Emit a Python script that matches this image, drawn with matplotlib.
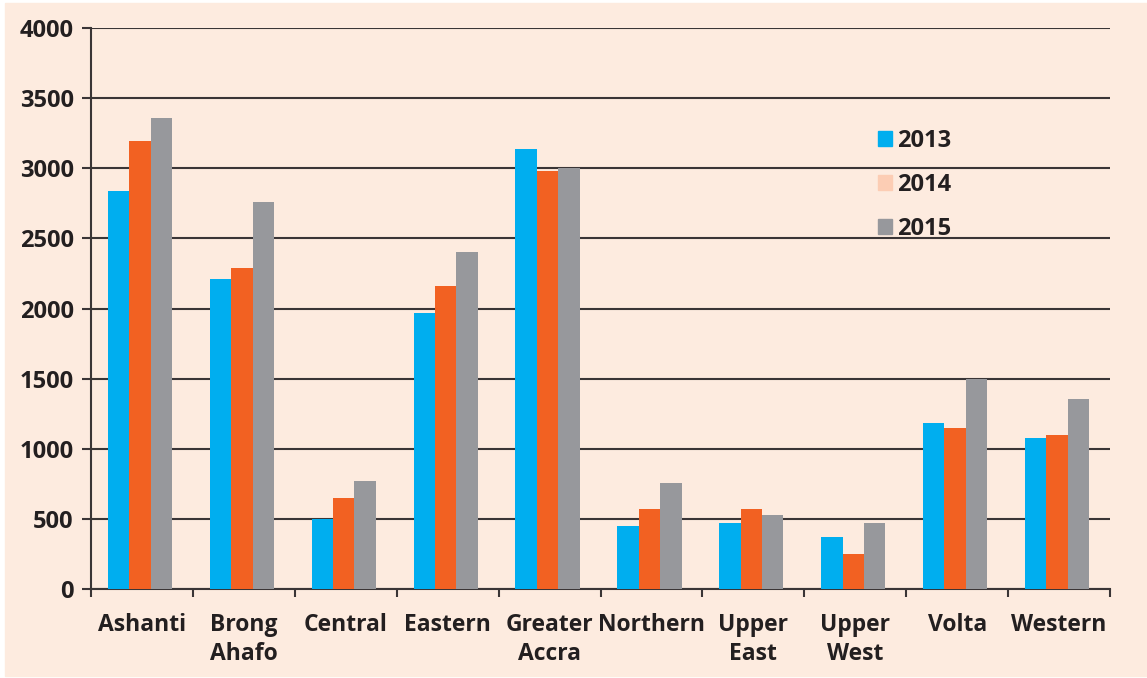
import matplotlib.pyplot as plt
import matplotlib.patches as mpatches
import numpy as np

regions = ['Ashanti', 'Brong\nAhafo', 'Central', 'Eastern', 'Greater\nAccra',
           'Northern', 'Upper\nEast', 'Upper\nWest', 'Volta', 'Western']
years = ['2013', '2014', '2015']
v2013 = [2840, 2210, 500, 1970, 3135, 450, 470, 370, 1185, 1080]
v2014 = [3195, 2290, 650, 2160, 2980, 570, 570, 250, 1150, 1100]
v2015 = [3360, 2760, 770, 2400, 3005, 755, 530, 470, 1495, 1355]
y_ticks = [0, 500, 1000, 1500, 2000, 2500, 3000, 3500, 4000]

bar_colors = ['#00AEEF', '#F26122', '#97989C']
legend_colors = ['#00AEEF', '#FCCDB4', '#97989C']
bg = '#FDEBDF'
ink = '#231F20'

plt.rcParams['font.family'] = ['Open Sans', 'DejaVu Sans']
plt.rcParams['font.weight'] = 'bold'

fig = plt.figure(figsize=(11.47, 6.78), dpi=100, facecolor='white')
# peach panel with a thin white margin round it
fig.patches.append(mpatches.Rectangle((5 / 1147, 2 / 678), 1142 / 1147, 673 / 678,
                                      transform=fig.transFigure, color=bg, zorder=-5))
ax = fig.add_axes([91 / 1147, 89 / 678, 1019 / 1147, 561 / 678])
ax.set_facecolor(bg)

x = np.arange(len(regions))
w = 0.21
for i, vals in enumerate([v2013, v2014, v2015]):
    ax.bar(x + (i - 1) * w - 0.02, vals, w, color=bar_colors[i], zorder=3)

ax.set_xlim(-0.5, len(regions) - 0.5)
ax.set_ylim(0, 4000)
ax.set_yticks(y_ticks)
ax.set_yticklabels([str(t) for t in y_ticks], fontsize=17, fontweight='bold', color=ink)
ax.yaxis.grid(True, color='#3A3536', linewidth=1.5, zorder=1)
ax.tick_params(axis='y', length=6.5, width=1.5, color='#3A3536', pad=6)

ax.set_xticks(np.arange(len(regions) + 1) - 0.5)
ax.set_xticklabels([])
ax.set_xticks(x, minor=True)
ax.set_xticklabels(regions, minor=True, fontsize=16.5, fontweight='bold', color=ink,
                   linespacing=1.3)
ax.tick_params(axis='x', which='major', length=6, width=1.5, color='#3A3536')
ax.tick_params(axis='x', which='minor', length=0, pad=17)

for s in ['top', 'right']:
    ax.spines[s].set_visible(False)
ax.spines['left'].set_color('#3A3536')
ax.spines['left'].set_linewidth(1.5)
ax.spines['bottom'].set_color('#3A3536')
ax.spines['bottom'].set_linewidth(1.5)

handles = [mpatches.Patch(color=c, label=y) for c, y in zip(legend_colors, years)]
leg = fig.legend(handles=handles, loc='upper left', bbox_to_anchor=(866 / 1147, 1 - 117 / 678),
                 frameon=False, borderpad=0, handlelength=0.6, handleheight=0.6,
                 handletextpad=0.2, labelspacing=0.85,
                 prop={'family': 'Open Sans', 'weight': 'bold', 'size': 17})
for t in leg.get_texts():
    t.set_color(ink)

fig.savefig('out.png', dpi=100, facecolor='white')
